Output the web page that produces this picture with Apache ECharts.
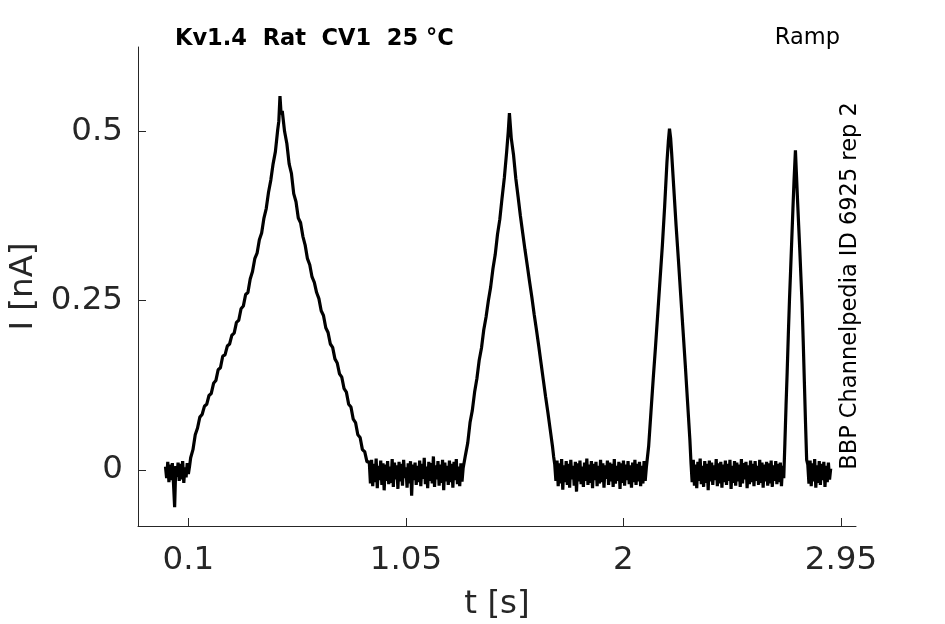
<!DOCTYPE html>
<html>
<head>
<meta charset="utf-8">
<script src="https://cdn.jsdelivr.net/npm/echarts@6/dist/echarts.min.js"></script>
<style>
html,body{margin:0;padding:0;background:#fff;}
#chart{width:945px;height:624px;}
</style>
</head>
<body>
<div id="chart"></div>
<script>
// ---- data ----
const xTicks = [0.1, 1.05, 2, 2.95];
const yTicks = [0, 0.25, 0.5];
const sampleStep = 0.005; // s, sampling of the baseline stretches

// baseline stretches (start time + recorded noisy current, nA)
const base0Start = 0.0;
const base0 = [0.005,-0.012,0.012,-0.018,0.008,-0.015,0.010,-0.020,-0.055,0.006,-0.010,0.011,-0.016,0.009,-0.014,0.013,-0.019,0.004,-0.011,0.010,-0.006];
const base1Start = 0.89;
const base1 = [0.012,-0.020,0.015,-0.024,0.009,-0.018,0.017,-0.027,0.006,-0.015,
0.014,-0.022,0.010,-0.030,0.008,-0.016,0.013,-0.021,0.005,-0.019,
0.016,-0.025,0.011,-0.014,0.007,-0.028,0.012,-0.017,0.009,-0.023,
0.015,-0.012,0.004,-0.026,0.010,-0.020,0.013,-0.038,0.008,-0.015,
0.011,-0.022,0.006,-0.018,0.014,-0.024,0.009,-0.013,0.018,-0.021,
0.005,-0.027,0.012,-0.016,0.010,-0.020,0.020,-0.025,0.007,-0.014,
0.013,-0.023,0.008,-0.019,0.015,-0.030,0.011,-0.017,0.006,-0.022,
0.014,-0.018,0.009,-0.026,0.012,-0.015,0.016,-0.021,0.005,-0.024,
0.010,-0.017,0.003];
const base2Start = 1.70;
const base2 = [0.008,-0.016,0.014,-0.024,0.010,-0.020,0.016,-0.029,0.007,-0.018,
0.013,-0.022,0.009,-0.026,0.015,-0.014,0.006,-0.023,0.012,-0.032,
0.010,-0.017,0.014,-0.021,0.005,-0.025,0.011,-0.016,0.017,-0.022,
0.008,-0.019,0.013,-0.027,0.009,-0.015,0.012,-0.024,0.006,-0.020,
0.015,-0.018,0.010,-0.026,0.007,-0.013,0.014,-0.022,0.011,-0.017,
0.009,-0.025,0.016,-0.020,0.006,-0.016,0.012,-0.028,0.010,-0.019,
0.014,-0.023,0.008,-0.015,0.013,-0.021,0.007,-0.026,0.011,-0.018,
0.015,-0.022,0.009,-0.017,0.012,-0.024,0.006,-0.020,0.013,-0.016,
0.004];
const base3Start = 2.295;
const base3 = [0.010,-0.018,0.015,-0.023,0.008,-0.027,0.012,-0.016,0.017,-0.021,
0.006,-0.025,0.013,-0.019,0.009,-0.030,0.014,-0.017,0.011,-0.022,
0.007,-0.015,0.016,-0.024,0.010,-0.020,0.012,-0.026,0.008,-0.018,
0.014,-0.022,0.009,-0.016,0.015,-0.028,0.006,-0.019,0.013,-0.023,
0.011,-0.017,0.008,-0.025,0.016,-0.020,0.010,-0.014,0.012,-0.027,
0.007,-0.021,0.014,-0.018,0.009,-0.024,0.013,-0.016,0.006,-0.022,
0.015,-0.019,0.011,-0.026,0.008,-0.017,0.012,-0.023,0.010,-0.020,
0.014,-0.025,0.007,-0.016,0.013,-0.021,0.009,-0.018,0.011,-0.024,
0.006,-0.012];
const base4Start = 2.805;
const base4 = [0.008,-0.020,0.014,-0.024,0.010,-0.017,0.016,-0.026,0.007,-0.019,0.013,-0.022,0.009,-0.015,0.012,-0.025,0.006,-0.018,0.011,-0.014,0.002];

// ramp responses: [t (s), I (nA)]
const hump1 = [[0.105,0.005],[0.11,0.018],[0.12,0.030],[0.13,0.052],[0.14,0.062],[0.15,0.078],[0.16,0.082],[0.17,0.094],[0.18,0.097],[0.19,0.110],
[0.20,0.113],[0.21,0.128],[0.22,0.132],[0.23,0.148],[0.24,0.151],[0.25,0.168],[0.26,0.170],[0.27,0.183],[0.28,0.186],[0.29,0.199],
[0.30,0.202],[0.31,0.218],[0.32,0.221],[0.33,0.238],[0.34,0.242],[0.35,0.259],[0.36,0.262],[0.37,0.282],[0.38,0.293],[0.39,0.312],
[0.40,0.320],[0.41,0.340],[0.42,0.350],[0.43,0.372],[0.44,0.386],[0.45,0.410],[0.46,0.428],[0.47,0.452],[0.48,0.470],[0.49,0.502],
[0.495,0.515],[0.50,0.552],[0.505,0.525],[0.51,0.530],[0.52,0.500],[0.53,0.482],[0.54,0.452],[0.55,0.438],[0.56,0.408],[0.57,0.396],
[0.58,0.372],[0.59,0.365],[0.60,0.345],[0.61,0.332],[0.62,0.312],[0.63,0.303],[0.64,0.285],[0.65,0.277],[0.66,0.262],[0.67,0.253],
[0.68,0.235],[0.69,0.228],[0.70,0.210],[0.71,0.203],[0.72,0.186],[0.73,0.181],[0.74,0.164],[0.75,0.158],[0.76,0.142],[0.77,0.137],
[0.78,0.120],[0.79,0.115],[0.80,0.097],[0.81,0.093],[0.82,0.075],[0.83,0.070],[0.84,0.052],[0.85,0.048],[0.86,0.030],[0.87,0.027],
[0.88,0.012]];
const hump2 = [[1.305,0.004],[1.31,0.022],[1.32,0.040],[1.33,0.070],[1.34,0.088],[1.35,0.115],[1.36,0.135],[1.37,0.162],[1.38,0.180],[1.39,0.207],
[1.40,0.226],[1.41,0.250],[1.42,0.270],[1.43,0.297],[1.44,0.318],[1.45,0.348],[1.46,0.370],[1.47,0.402],[1.48,0.432],[1.49,0.470],
[1.497,0.500],[1.502,0.527],[1.51,0.490],[1.52,0.465],[1.53,0.430],[1.54,0.403],[1.55,0.375],[1.56,0.350],[1.57,0.325],[1.58,0.302],
[1.59,0.278],[1.60,0.255],[1.61,0.230],[1.62,0.207],[1.63,0.183],[1.64,0.158],[1.65,0.133],[1.66,0.108],[1.67,0.085],[1.68,0.060],
[1.69,0.035],[1.695,0.020]];
const hump3 = [[2.11,0.035],[2.12,0.085],[2.13,0.135],[2.14,0.182],[2.15,0.232],[2.16,0.282],[2.17,0.332],[2.18,0.390],[2.19,0.455],[2.196,0.485],
[2.201,0.504],[2.206,0.490],[2.21,0.470],[2.22,0.415],[2.23,0.360],[2.24,0.310],[2.25,0.258],[2.26,0.207],[2.27,0.155],[2.28,0.100],
[2.29,0.045]];
const hump4 = [[2.705,0.040],[2.71,0.095],[2.715,0.145],[2.72,0.200],[2.725,0.251],[2.73,0.295],[2.735,0.340],[2.74,0.385],[2.745,0.428],[2.751,0.472],
[2.755,0.440],[2.76,0.400],[2.765,0.362],[2.77,0.325],[2.775,0.285],[2.78,0.245],[2.785,0.190],[2.79,0.130],[2.795,0.070],[2.80,0.015]];

// ---- build the trace ----
function sampled(start, vals) {
  return vals.map((v, k) => [+(start + k * sampleStep).toFixed(4), v]);
}
const trace = [].concat(
  sampled(base0Start, base0), hump1,
  sampled(base1Start, base1), hump2,
  sampled(base2Start, base2), hump3,
  sampled(base3Start, base3), hump4,
  sampled(base4Start, base4)
);

const FONT = 'DejaVu Sans';
const AX = '#262626';
const chart = echarts.init(document.getElementById('chart'), null, {renderer: 'canvas'});
chart.setOption({
  animation: false,
  backgroundColor: '#ffffff',
  textStyle: {fontFamily: FONT},
  grid: {left: 138, right: 89, top: 47, bottom: 98, containLabel: false, outerBoundsMode: 'none'},
  title: [
    {text: 'Kv1.4  Rat  CV1  25 °C', left: 175, top: 28, padding: 0,
     textStyle: {fontFamily: FONT, fontSize: 22.5, fontWeight: 'bold', color: '#000'}},
    {text: 'Ramp', right: 105, top: 27, padding: 0,
     textStyle: {fontFamily: FONT, fontSize: 22.5, fontWeight: 'normal', color: '#000'}}
  ],
  graphic: [{
    type: 'text', x: 850, y: 286, rotation: Math.PI / 2,
    style: {text: 'BBP Channelpedia ID 6925 rep 2', fontFamily: FONT, fontSize: 22.5,
            fill: '#000', align: 'center', verticalAlign: 'middle'}
  }],
  xAxis: {
    type: 'value', min: -0.12, max: 3.0155,
    name: 't [s]', nameLocation: 'middle', nameGap: 62,
    nameTextStyle: {fontFamily: FONT, fontSize: 32.5, color: AX},
    axisLine: {show: true, onZero: false, lineStyle: {color: AX, width: 1}},
    axisTick: {show: true, inside: true, length: 8, customValues: xTicks, lineStyle: {color: AX}},
    axisLabel: {customValues: xTicks, margin: 18, fontFamily: FONT, fontSize: 32.5, color: AX},
    splitLine: {show: false}
  },
  yAxis: {
    type: 'value', min: -0.0827, max: 0.6245,
    name: 'I [nA]', nameLocation: 'middle', nameGap: 97, nameRotate: 90,
    nameTextStyle: {fontFamily: FONT, fontSize: 32.5, color: AX},
    axisLine: {show: true, onZero: false, lineStyle: {color: AX, width: 1}},
    axisTick: {show: true, inside: true, length: 8, customValues: yTicks, lineStyle: {color: AX}},
    axisLabel: {customValues: yTicks, margin: 15, fontFamily: FONT, fontSize: 32.5, color: AX},
    splitLine: {show: false}
  },
  series: [{
    type: 'line', data: trace, showSymbol: false, symbol: 'none',
    sampling: null, clip: true,
    lineStyle: {color: '#000', width: 3.2}
  }]
});
</script>
</body>
</html>
